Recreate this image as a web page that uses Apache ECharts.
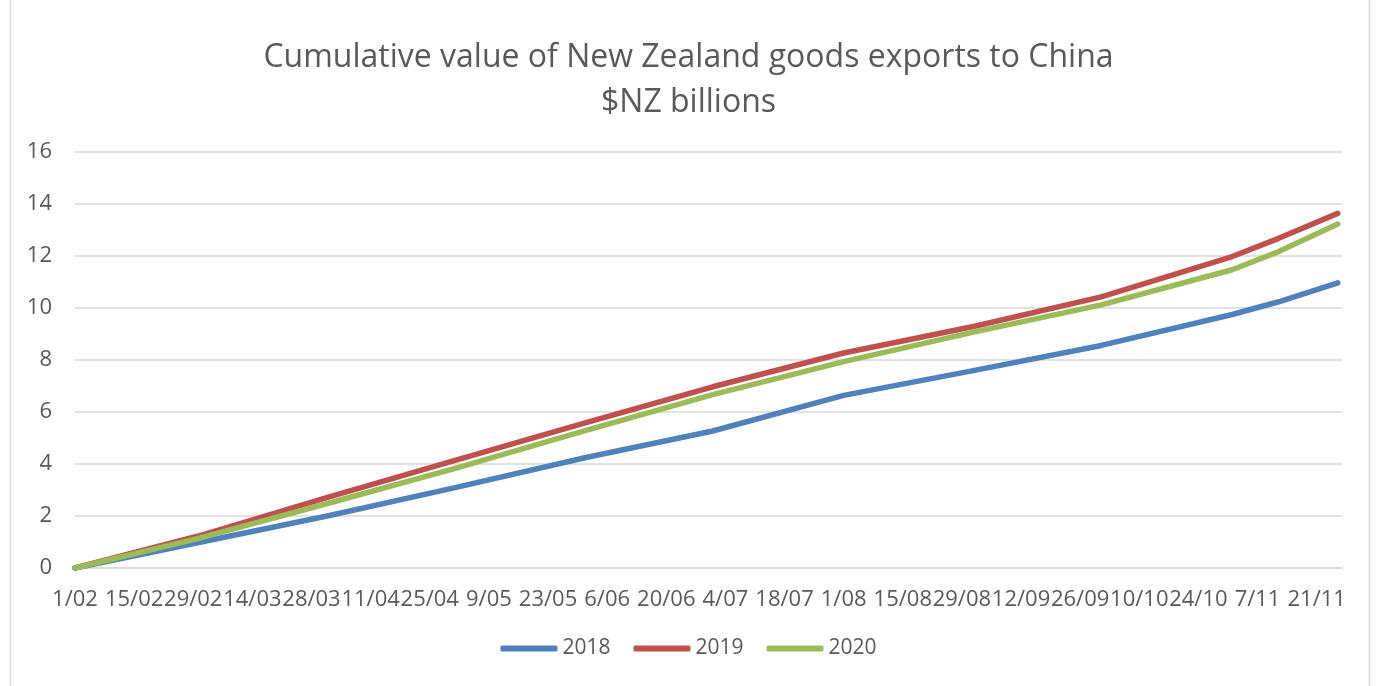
<!DOCTYPE html>
<html>
<head>
<meta charset="utf-8">
<script src="https://cdn.jsdelivr.net/npm/echarts/dist/echarts.min.js"></script>
<style>
  html, body { margin: 0; padding: 0; background: #fff; }
  #main { width: 1377px; height: 686px; }
</style>
</head>
<body>
<div id="main"></div>
<script>
// points of each cumulative line (2020 calendar used for the x positions)
const pointDates = ['2020-02-01', '2020-03-01', '2020-04-01', '2020-05-01', '2020-06-01', '2020-07-01',
  '2020-08-01', '2020-09-01', '2020-10-01', '2020-11-01', '2020-11-12', '2020-11-26'];
const exports2018 = [0, 0.97, 2.01, 3.09, 4.25, 5.27, 6.64, 7.60, 8.56, 9.75, 10.24, 10.97];
const exports2019 = [0, 1.22, 2.73, 4.14, 5.59, 6.97, 8.27, 9.30, 10.43, 11.98, 12.68, 13.64];
const exports2020 = [0, 1.13, 2.49, 3.83, 5.29, 6.67, 7.94, 9.08, 10.12, 11.47, 12.17, 13.23];

// tick labels, one every 14 days from 1/02
const xLabels = ['1/02', '15/02', '29/02', '14/03', '28/03', '11/04', '25/04', '9/05', '23/05', '6/06', '20/06',
  '4/07', '18/07', '1/08', '15/08', '29/08', '12/09', '26/09', '10/10', '24/10', '7/11', '21/11'];

const seriesNames = ['2018', '2019', '2020'];
const seriesColors = ['#4f81bd', '#c0504d', '#9bbb59'];

const startDay = Date.UTC(2020, 1, 1);
const dayOf = (s) => {
  const p = s.split('-');
  return Math.round((Date.UTC(+p[0], +p[1] - 1, +p[2]) - startDay) / 86400000);
};
const days = pointDates.map(dayOf);
const pairs = (vals) => vals.map((v, i) => [days[i], v]);

const textColor = '#595959';
const fontName = 'Open Sans';

const chartDom = document.getElementById('main');
const myChart = echarts.init(chartDom);
let option;

option = {
  backgroundColor: '#fff',
  animation: false,
  title: {
    text: 'Cumulative value of New Zealand goods exports to China\n$NZ billions',
    left: 'center',
    top: 30,
    textStyle: {
      fontFamily: fontName,
      fontWeight: 'normal',
      fontSize: 32,
      lineHeight: 45,
      color: textColor
    }
  },
  legend: {
    data: seriesNames,
    bottom: 22,
    left: 'center',
    icon: 'roundRect',
    itemWidth: 57,
    itemHeight: 6,
    itemGap: 23,
    textStyle: {
      fontFamily: fontName,
      fontSize: 21,
      color: textColor
    }
  },
  grid: {
    left: 75,
    right: 35,
    top: 152,
    bottom: 118
  },
  xAxis: {
    type: 'value',
    min: 0,
    max: 300,
    interval: 14,
    axisLine: { show: true, lineStyle: { color: '#d9d9d9', width: 1.5 } },
    axisTick: { show: false },
    splitLine: { show: false },
    axisLabel: {
      showMaxLabel: false,
      margin: 21,
      fontFamily: fontName,
      fontSize: 22,
      color: textColor,
      formatter: (v) => (v % 14 === 0 ? (xLabels[v / 14] || '') : '')
    }
  },
  yAxis: {
    type: 'value',
    min: 0,
    max: 16,
    interval: 2,
    axisLine: { show: false },
    axisTick: { show: false },
    splitLine: { lineStyle: { color: '#d9d9d9', width: 1.5 } },
    axisLabel: {
      margin: 23,
      fontFamily: fontName,
      fontSize: 22,
      color: textColor
    }
  },
  series: [exports2018, exports2019, exports2020].map((vals, i) => ({
    name: seriesNames[i],
    type: 'line',
    data: pairs(vals),
    symbol: 'none',
    color: seriesColors[i],
    lineStyle: { width: 5.5, color: seriesColors[i], cap: 'round', join: 'round' }
  })),
  graphic: [{
    type: 'rect',
    shape: { x: 10.5, y: -2, width: 1359, height: 690 },
    style: { fill: 'none', stroke: '#d9d9d9', lineWidth: 1.5 },
    silent: true
  }]
};

option && myChart.setOption(option);
</script>
</body>
</html>
